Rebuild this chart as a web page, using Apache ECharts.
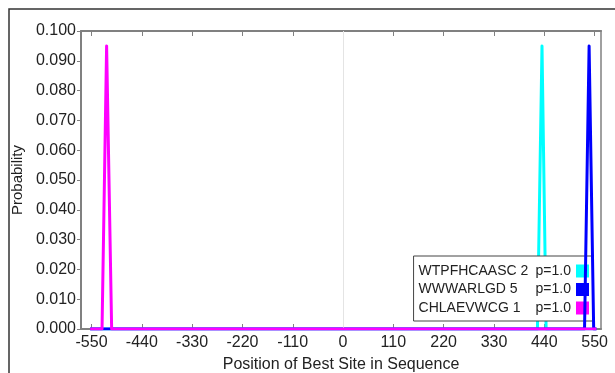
<!DOCTYPE html>
<html>
<head>
<meta charset="utf-8">
<script src="https://cdn.jsdelivr.net/npm/echarts@6/dist/echarts.min.js"></script>
<style>
html,body{margin:0;padding:0;background:#fff;}
#chart{width:615px;height:373px;}
</style>
</head>
<body>
<div id="chart"></div>
<script>
// ---- data ----
var seriesNames = ['WTPFHCAASC 2', 'WWWARLGD 5', 'CHLAEVWCG 1'];
var seriesPValues = ['p=1.0', 'p=1.0', 'p=1.0'];
var seriesColors = ['#00FFFF', '#0000FF', '#FF00FF'];
var cyanX = [-553, 425, 435, 444, 554];
var cyanY = [0, 0, 0.095, 0, 0];
var blueX = [-553, 528, 538, 548, 554];
var blueY = [0, 0, 0.095, 0, 0];
var magentaX = [-553, -527, -517, -506, 554];
var magentaY = [0, 0, 0.095, 0, 0];
var xTickValues = [-550, -440, -330, -220, -110, 0, 110, 220, 330, 440, 550];
var xAxisTitle = 'Position of Best Site in Sequence';
var yAxisTitle = 'Probability';

function pairs(xs, ys) { return xs.map(function (x, i) { return [x, ys[i]]; }); }
var seriesX = [cyanX, blueX, magentaX];
var seriesY = [cyanY, blueY, magentaY];

var font = '"Liberation Sans", Arial, sans-serif';
var X_MIN = -573, X_MAX = 564;

var series = seriesNames.map(function (name, i) {
  return {
    name: name,
    type: 'line',
    data: pairs(seriesX[i], seriesY[i]),
    showSymbol: false,
    symbol: 'none',
    lineStyle: { color: seriesColors[i], width: 3, join: 'round' },
    itemStyle: { color: seriesColors[i] },
    animation: false,
    z: 3 + i
  };
});
// zero reference line
series.unshift({
  type: 'line',
  data: [],
  silent: true,
  z: 1,
  markLine: {
    silent: true,
    symbol: 'none',
    label: { show: false },
    lineStyle: { color: '#e4e4e4', width: 1, type: 'solid' },
    data: [{ xAxis: 0 }],
    animation: false
  }
});

var chart = echarts.init(document.getElementById('chart'), null, { renderer: 'canvas' });
chart.setOption({
  animation: false,
  backgroundColor: '#fff',
  grid: { left: 81, right: 14, top: 31, bottom: 44, containLabel: false, outerBoundsMode: 'none' },
  graphic: [{
    type: 'rect',
    shape: { x: 9, y: 9, width: 700, height: 500 },
    style: { fill: 'none', stroke: '#333', lineWidth: 1.5 },
    z: -1
  }],
  legend: {
    data: seriesNames,
    orient: 'vertical',
    align: 'right',
    right: 22,
    top: 256,
    itemWidth: 13,
    itemHeight: 13,
    itemGap: 4.5,
    icon: 'rect',
    padding: [8, 4, 6, 5],
    backgroundColor: '#fff',
    borderColor: '#444',
    borderWidth: 1,
    borderRadius: 0,
    selectedMode: false,
    formatter: function (name) {
      var i = seriesNames.indexOf(name);
      return '{n|' + name + '}{p|' + seriesPValues[i] + '}';
    },
    textStyle: {
      fontFamily: font, fontSize: 14, color: '#222', lineHeight: 13,
      rich: {
        n: { width: 117, align: 'left', fontFamily: font, fontSize: 14, color: '#222', lineHeight: 13 },
        p: { align: 'left', fontFamily: font, fontSize: 14, color: '#222', lineHeight: 13 }
      }
    }
  },
  xAxis: [{
    type: 'value',
    position: 'bottom',
    min: X_MIN,
    max: X_MAX,
    name: xAxisTitle,
    nameLocation: 'middle',
    nameGap: 28,
    nameTextStyle: { fontFamily: font, fontSize: 16, color: '#222' },
    axisLine: { show: true, onZero: false, lineStyle: { color: '#808080', width: 2 } },
    axisTick: { show: true, inside: true, length: 5, customValues: xTickValues, lineStyle: { color: '#808080', width: 1 } },
    axisLabel: { show: true, customValues: xTickValues, margin: 6, fontFamily: font, fontSize: 16, color: '#222' },
    splitLine: { show: false }
  }, {
    type: 'value',
    position: 'top',
    min: X_MIN,
    max: X_MAX,
    axisLine: { show: true, onZero: false, lineStyle: { color: '#808080', width: 2 } },
    axisTick: { show: true, inside: true, length: 5, customValues: xTickValues, lineStyle: { color: '#808080', width: 1 } },
    axisLabel: { show: false },
    splitLine: { show: false }
  }],
  yAxis: [{
    type: 'value',
    position: 'left',
    min: 0,
    max: 0.1,
    interval: 0.01,
    name: yAxisTitle,
    nameLocation: 'middle',
    nameGap: 44,
    nameTextStyle: { fontFamily: font, fontSize: 15, color: '#222' },
    axisLine: { show: true, onZero: false, lineStyle: { color: '#808080', width: 2 } },
    axisTick: { show: true, inside: false, length: 4, lineStyle: { color: '#808080', width: 1 } },
    axisLabel: { margin: 5, fontFamily: font, fontSize: 16, color: '#222', formatter: function (v) { return v.toFixed(3); } },
    splitLine: { show: false }
  }, {
    type: 'value',
    position: 'right',
    min: 0,
    max: 0.1,
    interval: 0.01,
    axisLine: { show: true, onZero: false, lineStyle: { color: '#a0a0a0', width: 2 } },
    axisTick: { show: false },
    axisLabel: { show: false },
    splitLine: { show: false }
  }],
  series: series
});
</script>
</body>
</html>
